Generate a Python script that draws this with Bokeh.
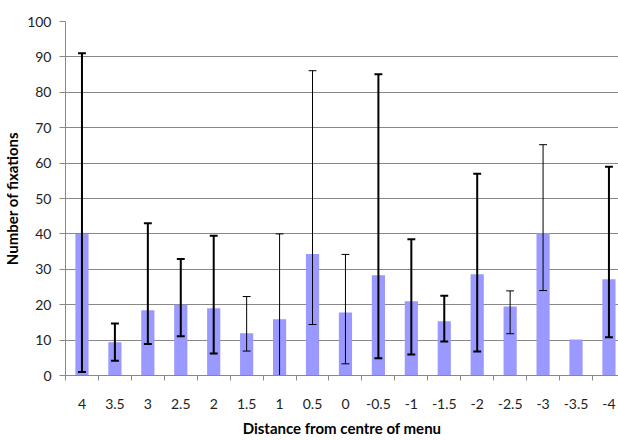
from bokeh.plotting import figure
from bokeh.models import ColumnDataSource, Range1d, FixedTicker
from bokeh.embed import file_html
from bokeh.resources import INLINE

# ---- data ----
categories = ["4", "3.5", "3", "2.5", "2", "1.5", "1", "0.5", "0",
              "-0.5", "-1", "-1.5", "-2", "-2.5", "-3", "-3.5", "-4"]
fixations = [40.0, 9.4, 18.4, 20.0, 19.0, 11.9, 15.9, 34.3, 17.8,
             28.3, 21.0, 15.3, 28.6, 19.5, 40.2, 10.2, 27.2]
err_low = [1.0, 4.2, 8.9, 11.1, 6.2, 6.9, 0.0, 14.4, 3.3,
           4.9, 5.9, 9.6, 6.8, 11.8, 24.0, None, 10.8]
err_high = [91.0, 14.7, 43.0, 32.9, 39.5, 22.3, 40.0, 86.1, 34.2,
            85.1, 38.5, 22.5, 57.0, 23.9, 65.2, None, 59.0]
y_ticks = [0, 10, 20, 30, 40, 50, 60, 70, 80, 90, 100]

# error-bar stroke weights (style only)
err_weight = [2, 2, 2, 2, 2, 1, 1, 1, 1, 2, 2, 2, 2, 1, 1, 1, 2]

xs = list(range(len(categories)))

bar_src = ColumnDataSource(dict(x=xs, top=fixations))

ex, elo, ehi, ew = [], [], [], []
for i, (lo, hi) in enumerate(zip(err_low, err_high)):
    if lo is None or hi is None:
        continue
    ex.append(i); elo.append(lo); ehi.append(hi); ew.append(err_weight[i])
cap = 0.12
err_src = ColumnDataSource(dict(x=ex, lo=elo, hi=ehi, lw=ew,
                                x0=[v - cap for v in ex], x1=[v + cap for v in ex]))

p = figure(width=618, height=440, output_backend="svg", toolbar_location=None,
           x_range=Range1d(-0.5, 16.29), y_range=Range1d(0, 100),
           min_border_left=59, min_border_top=21, min_border_bottom=65,
           min_border_right=0)
p.outline_line_color = None
p.background_fill_color = "white"
p.border_fill_color = "white"

p.vbar(x="x", top="top", bottom=0, width=0.4, source=bar_src,
       fill_color="#9999FF", line_color=None)

p.segment(x0="x", y0="lo", x1="x", y1="hi", source=err_src,
          line_color="black", line_width="lw")
p.segment(x0="x0", y0="hi", x1="x1", y1="hi", source=err_src,
          line_color="black", line_width="lw")
p.segment(x0="x0", y0="lo", x1="x1", y1="lo", source=err_src,
          line_color="black", line_width="lw")

# grid
p.xgrid.grid_line_color = None
p.ygrid.grid_line_color = "#888888"
p.ygrid.grid_line_width = 1
p.yaxis.ticker = FixedTicker(ticks=y_ticks)

# x axis
p.xaxis.ticker = FixedTicker(ticks=xs, minor_ticks=[i - 0.5 for i in range(len(categories) + 1)])
p.xaxis.major_label_overrides = {i: c for i, c in zip(xs, categories)}
p.xaxis.major_tick_out = 0
p.xaxis.major_tick_in = 0
p.xaxis.minor_tick_out = 5
p.xaxis.minor_tick_in = 0
p.xaxis.minor_tick_line_color = "#888888"
p.xaxis.axis_line_color = "#888888"
p.xaxis.major_label_standoff = 18
p.xaxis.axis_label = "Distance from centre of menu"
p.xaxis.axis_label_standoff = 7

# y axis
p.yaxis.major_tick_out = 6
p.yaxis.major_tick_in = 0
p.yaxis.minor_tick_line_color = None
p.yaxis.major_tick_line_color = "#888888"
p.yaxis.axis_line_color = "#888888"
p.yaxis.major_label_standoff = 8
p.yaxis.axis_label = "Number of fixations"
p.yaxis.axis_label_standoff = 3

for ax in (p.xaxis[0], p.yaxis[0]):
    ax.major_label_text_font = "Lato"
    ax.major_label_text_font_size = "14px"
    ax.major_label_text_color = "#222222"
    ax.axis_label_text_font = "Lato"
    ax.axis_label_text_font_style = "bold"
    ax.axis_label_text_font_size = "15px"
    ax.axis_label_text_color = "black"

open("out.html", "w").write(file_html(p, INLINE))
